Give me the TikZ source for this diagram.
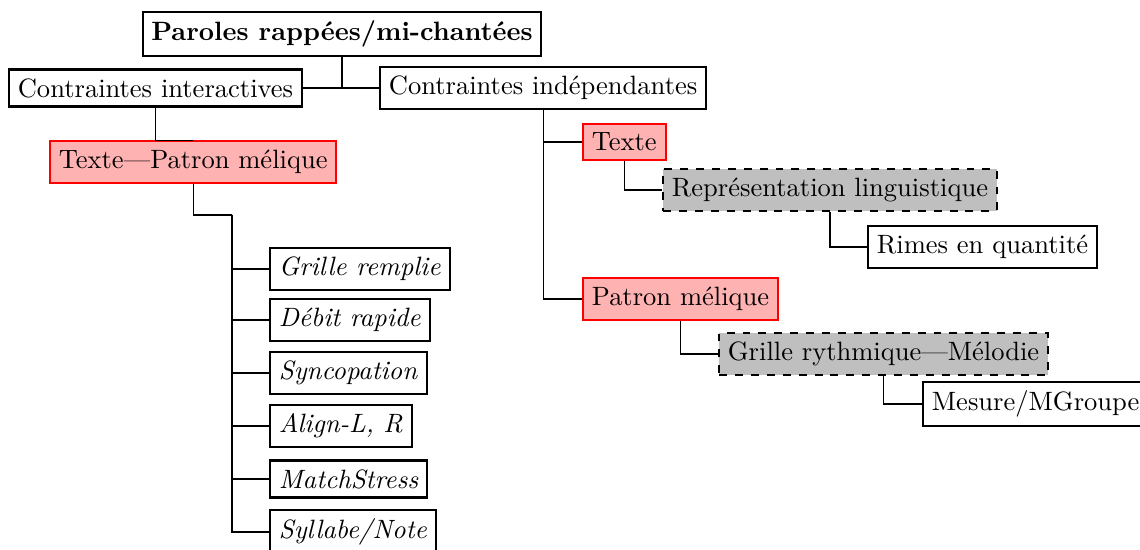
\documentclass[tikz,border=0pt]{standalone}
\begin{document}
\begin{tikzpicture}[x=0.377pt,y=-0.377pt,
  box/.style={draw=black,thick,fill=white,inner sep=0.3333em},
  redbox/.style={draw=red,thick,fill=red!30,inner sep=0.3333em},
  graybox/.style={draw=black,thick,dashed,fill=gray!50,inner sep=0.3333em},
  conn/.style={draw=black,line width=0.4pt}]
\useasboundingbox (0,0) rectangle (1140,550);
% nodes
\node[box,font=\bfseries] (root) at (342,34) {Paroles rappées/mi-chantées};
\node[box,anchor=east] (ci) at (303,88) {Contraintes interactives};
\node[box,anchor=west] (cind) at (379,88) {Contraintes indépendantes};
\node[redbox,anchor=west] (tp) at (49,162) {Texte---Patron mélique};
\node[box,anchor=west] (c1) at (269,269) {\textit{Grille remplie}};
\node[box,anchor=west] (c2) at (269,320) {\textit{Débit rapide}};
\node[box,anchor=west] (c3) at (269,373) {\textit{Syncopation}};
\node[box,anchor=west] (c4) at (269,426) {\textit{Align-L, R}};
\node[box,anchor=west] (c5) at (269,479) {\textit{MatchStress}};
\node[box,anchor=west] (c6) at (269,532) {\textit{Syllabe/Note}};
\node[redbox,anchor=west] (t) at (582,142) {Texte};
\node[redbox,anchor=west] (pm) at (582,299) {Patron mélique};
\node[graybox,anchor=west] (rl) at (662,190) {Représentation linguistique};
\node[box,anchor=west] (rq) at (867,247) {Rimes en quantité};
\node[graybox,anchor=west] (gr) at (718,354) {Grille rythmique---Mélodie};
\node[box,anchor=west] (mg) at (922,404) {Mesure/MGroupe};
\coordinate (tpj) at (232,215);
% connectors
\draw[conn] (root.south) -- (root.south |- ci.east);
\draw[conn] (ci.east) -- (cind.west);
\draw[conn] (ci.south) |- (tp.north);
\draw[conn] (tp.south) |- (tpj);
\foreach \c in {c1,c2,c3,c4,c5,c6}{\draw[conn] (tpj) |- (\c.west);}
\draw[conn] (cind.south) |- (t.west);
\draw[conn] (cind.south) |- (pm.west);
\draw[conn] (t.south) |- (rl.west);
\draw[conn] (rl.south) |- (rq.west);
\draw[conn] (pm.south) |- (gr.west);
\draw[conn] (gr.south) |- (mg.west);
\end{tikzpicture}
\end{document}
